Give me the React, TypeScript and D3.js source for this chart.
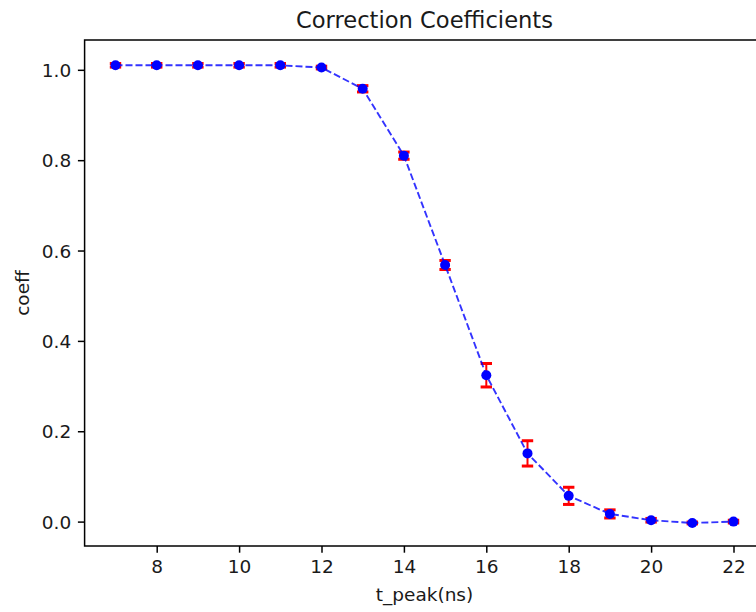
import React, { useEffect, useRef } from "react";
import { select, scaleLinear, axisBottom, axisLeft, line } from "d3";

// t_peak (ns) and measured correction coefficients
const tPeak = [7, 8, 9, 10, 11, 12, 13, 14, 15, 16, 17, 18, 19, 20, 21, 22];
const coeff = [1.01, 1.01, 1.01, 1.01, 1.01, 1.005, 0.958, 0.81, 0.568, 0.324, 0.151, 0.057, 0.017, 0.003, -0.003, 0.0];
const coeffErr = [0.004, 0.004, 0.004, 0.004, 0.004, 0.003, 0.007, 0.008, 0.01, 0.026, 0.028, 0.019, 0.009, 0.004, 0.002, 0.003];

const xTicks = [8, 10, 12, 14, 16, 18, 20, 22];
const yTicks = [0.0, 0.2, 0.4, 0.6, 0.8, 1.0];
const xLimits = [6.25, 22.75];
const yLimits = [-0.054, 1.066];

const App = () => {
  const svgRef = useRef<SVGSVGElement>(null);

  const svgWidth = 756;
  const svgHeight = 612;

  // axes box (right part of the figure is cropped off)
  const left = 84.6;
  const right = 764.4;
  const top = 40;
  const bottom = 546;

  const font = "DejaVu Sans, sans-serif";
  const tickFont = 18.5;
  const textColor = "#1a1a1a";

  useEffect(() => {
    const svg = select(svgRef.current);
    svg.selectAll("*").remove();

    const xScale = scaleLinear().domain(xLimits).range([left, right]);
    const yScale = scaleLinear().domain(yLimits).range([bottom, top]);

    const data = tPeak.map((t, i) => ({ t, v: coeff[i], e: coeffErr[i] }));

    // x axis
    const xAxis = axisBottom(xScale)
      .tickValues(xTicks)
      .tickFormat((d) => String(d))
      .tickSize(6.7)
      .tickPadding(6.7)
      .tickSizeOuter(0);
    const gx = svg.append("g").attr("transform", `translate(0,${bottom})`).call(xAxis);
    gx.select(".domain").remove();
    gx.selectAll("line").attr("stroke", "#000").attr("stroke-width", 1.5);
    gx.selectAll("text")
      .attr("fill", textColor)
      .style("font-family", font)
      .style("font-size", tickFont + "px")
      .attr("dy", "0.76em");

    // y axis
    const yAxis = axisLeft(yScale)
      .tickValues(yTicks)
      .tickFormat((d) => (d as number).toFixed(1))
      .tickSize(6.7)
      .tickPadding(6.7)
      .tickSizeOuter(0);
    const gy = svg.append("g").attr("transform", `translate(${left},0)`).call(yAxis);
    gy.select(".domain").remove();
    gy.selectAll("line").attr("stroke", "#000").attr("stroke-width", 1.5);
    gy.selectAll("text")
      .attr("fill", textColor)
      .style("font-family", font)
      .style("font-size", tickFont + "px")
      .attr("dy", "0.36em");

    // spines
    svg.append("rect")
      .attr("x", left)
      .attr("y", top)
      .attr("width", right - left)
      .attr("height", bottom - top)
      .attr("fill", "none")
      .attr("stroke", "#000")
      .attr("stroke-width", 1.5);

    // error bars
    const capHalf = 5.7;
    const eg = svg.append("g").attr("stroke", "red");
    eg.selectAll("line.err")
      .data(data)
      .join("line")
      .attr("class", "err")
      .attr("x1", (d) => xScale(d.t))
      .attr("x2", (d) => xScale(d.t))
      .attr("y1", (d) => yScale(d.v - d.e))
      .attr("y2", (d) => yScale(d.v + d.e))
      .attr("stroke-width", 2);
    eg.selectAll("line.capTop")
      .data(data)
      .join("line")
      .attr("class", "capTop")
      .attr("x1", (d) => xScale(d.t) - capHalf)
      .attr("x2", (d) => xScale(d.t) + capHalf)
      .attr("y1", (d) => yScale(d.v + d.e))
      .attr("y2", (d) => yScale(d.v + d.e))
      .attr("stroke-width", 3);
    eg.selectAll("line.capBot")
      .data(data)
      .join("line")
      .attr("class", "capBot")
      .attr("x1", (d) => xScale(d.t) - capHalf)
      .attr("x2", (d) => xScale(d.t) + capHalf)
      .attr("y1", (d) => yScale(d.v - d.e))
      .attr("y2", (d) => yScale(d.v - d.e))
      .attr("stroke-width", 3);

    // dashed line
    const linePath = line<{ t: number; v: number }>()
      .x((d) => xScale(d.t))
      .y((d) => yScale(d.v));
    svg.append("path")
      .datum(data)
      .attr("d", linePath)
      .attr("fill", "none")
      .attr("stroke", "blue")
      .attr("stroke-opacity", 0.8)
      .attr("stroke-width", 1.9)
      .attr("stroke-dasharray", "7,3");

    // markers
    svg.selectAll("circle")
      .data(data)
      .join("circle")
      .attr("cx", (d) => xScale(d.t))
      .attr("cy", (d) => yScale(d.v))
      .attr("r", 5)
      .attr("fill", "blue");

    // title and labels
    const cx = (left + right) / 2;
    svg.append("text")
      .attr("x", cx)
      .attr("y", 27.5)
      .attr("text-anchor", "middle")
      .attr("fill", textColor)
      .style("font-family", font)
      .style("font-size", "22.6px")
      .text("Correction Coefficients");

    svg.append("text")
      .attr("x", cx)
      .attr("y", 600.5)
      .attr("text-anchor", "middle")
      .attr("fill", textColor)
      .style("font-family", font)
      .style("font-size", tickFont + "px")
      .text("t_peak(ns)");

    svg.append("text")
      .attr("transform", `translate(29,${(top + bottom) / 2}) rotate(-90)`)
      .attr("text-anchor", "middle")
      .attr("fill", textColor)
      .style("font-family", font)
      .style("font-size", tickFont + "px")
      .text("coeff");
  }, []);

  return (
    <div>
      <style>{`body{margin:0;}`}</style>
      <svg ref={svgRef} width={svgWidth} height={svgHeight} style={{ display: "block" }}></svg>
    </div>
  );
};

export default App;
